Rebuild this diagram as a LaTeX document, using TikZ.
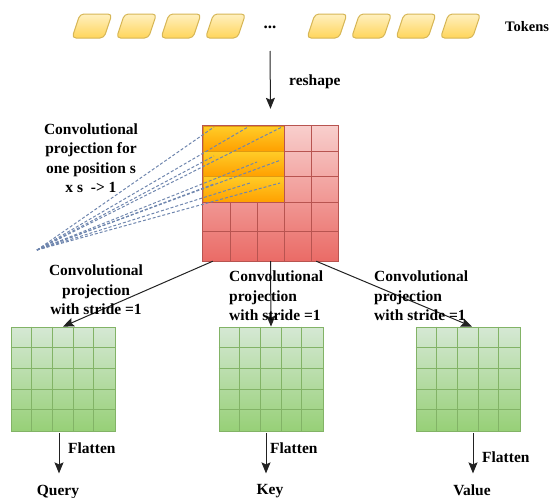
\documentclass[tikz,border=0pt]{standalone}
\usepackage{fontspec}
\setmainfont{Liberation Serif}
\usetikzlibrary{calc,arrows.meta}

\definecolor{tokfill}{HTML}{FFF0C0}
\definecolor{tokgrad}{HTML}{FFD55A}
\definecolor{tokline}{HTML}{D6B656}
\definecolor{redtop}{HTML}{F8CECC}
\definecolor{redbot}{HTML}{EA6B66}
\definecolor{redline}{HTML}{B85450}
\definecolor{orgtop}{HTML}{FFCD28}
\definecolor{orgbot}{HTML}{FFA000}
\definecolor{orgline}{HTML}{E09A10}
\definecolor{grntop}{HTML}{D5E8D4}
\definecolor{grnbot}{HTML}{97D077}
\definecolor{grnline}{HTML}{82B366}
\definecolor{dashc}{HTML}{6F86AE}
\definecolor{conn}{HTML}{222222}

\begin{document}
\begin{tikzpicture}[x=1pt,y=-1pt,
  lbl/.style={font=\fontsize{15.5}{19.5}\selectfont\bfseries, inner sep=0pt},
  arr/.style={draw=conn, line width=1pt, -{Stealth[length=11pt,width=9pt,inset=2pt]}},
  token/.style={top color=tokfill, bottom color=tokgrad, draw=tokline, line width=1pt, rounded corners=4pt},
  featmap/.style={minimum width=135pt, minimum height=135pt, inner sep=0pt, top color=redtop, bottom color=redbot},
  outmap/.style={minimum width=104pt, minimum height=104pt, inner sep=0pt, top color=grntop, bottom color=grnbot, draw=grnline, line width=0.8pt},
  dashline/.style={draw=dashc, line width=1pt, dash pattern=on 3pt off 2pt},
]
\useasboundingbox (0,0) rectangle (552,498);

% token sequence
\foreach \cx in {92,136.5,181,225.5,327,371.5,416,460.5}
  \shade[token] (\cx-20,38) -- (\cx+12,38) -- (\cx+20,14) -- (\cx-12,14) -- cycle;
\node[lbl, anchor=base, font=\fontsize{17}{20}\selectfont\bfseries] (dots) at (270,28) {...};
\node[lbl, anchor=base west, font=\fontsize{14.5}{17}\selectfont\bfseries] (tok) at (505,31) {Tokens};

% reshaped feature map
\node[featmap] (fm) at (270.5,193.5) {};
\foreach \ya/\yb in {126/151,151/176,176/202}
  \shade[top color=orgtop, bottom color=orgbot, draw=orgline, line width=0.6pt] (203,\ya) rectangle (284,\yb);
\begin{scope}[draw=redline, line width=0.8pt]
  \draw (284,126) -- (284,261);
  \draw (311,126) -- (311,261);
  \draw (230,202) -- (230,261);
  \draw (257,202) -- (257,261);
  \draw (284,151) -- (338,151);
  \draw (284,176) -- (338,176);
  \draw (203,202) -- (338,202);
  \draw (203,231) -- (338,231);
  \draw (fm.north west) rectangle (fm.south east);
\end{scope}

\draw[arr] ($(dots.base)+(0,23)$) -- ($(fm.north)+(0,-17)$);
\node[lbl, anchor=base west] (reshape) at (289,85) {reshape};

% receptive field of one output position
\coordinate (apex) at (37,250);
\foreach \ex/\ey in {214/127,248/127,282/127,214/156,257/162,281/160,214/184,250/183,280/183}
  \draw[dashline] (apex) -- (\ex,\ey);
\node[lbl, align=center] (projlbl) at (91,158) {Convolutional\\projection for\\one position s\\x s~~-> 1};

% query / key / value maps
\node[outmap] (q) at (63,379) {};
\node[outmap] (k) at (271,379) {};
\node[outmap] (v) at (468,379) {};
\foreach \g in {q,k,v}{
  \foreach \i in {1,...,4}{
    \draw[grnline, line width=0.8pt] ($(\g.north west)+(\i*20.8,0)$) -- ($(\g.south west)+(\i*20.8,0)$);
    \draw[grnline, line width=0.8pt] ($(\g.north west)+(0,\i*20.8)$) -- ($(\g.north east)+(0,\i*20.8)$);
  }
}

\draw[arr] ($(fm.south west)+(10,0)$) -- (q.north);
\draw[arr] (fm.south) -- (k.north);
\draw[arr] ($(fm.south east)+(-22,0)$) -- ($(v.north)+(4,0)$);

\node[lbl, align=center] (qconv) at (96,290) {Convolutional\\projection\\with stride =1};
\node[lbl, align=left, anchor=west] (kconv) at (229,296) {Convolutional\\projection\\with stride =1};
\node[lbl, align=left, anchor=west] (vconv) at (374,296) {Convolutional\\projection\\with stride =1};

% flattening
\draw[arr] ($(q.south)+(-4,2)$) -- ++(0,40);
\draw[arr] ($(k.south)+(-5,2)$) -- ++(0,40);
\draw[arr] ($(v.south)+(5,2)$) -- ++(0,40);
\node[lbl, anchor=base west] (qflat) at (68,453) {Flatten};
\node[lbl, anchor=base west] (kflat) at (270,453) {Flatten};
\node[lbl, anchor=base west] (vflat) at (482,462) {Flatten};

\node[lbl, anchor=base] (query) at (58,495) {Query};
\node[lbl, anchor=base] (key) at (270,494) {Key};
\node[lbl, anchor=base] (value) at (472,495) {Value};
\end{tikzpicture}
\end{document}
